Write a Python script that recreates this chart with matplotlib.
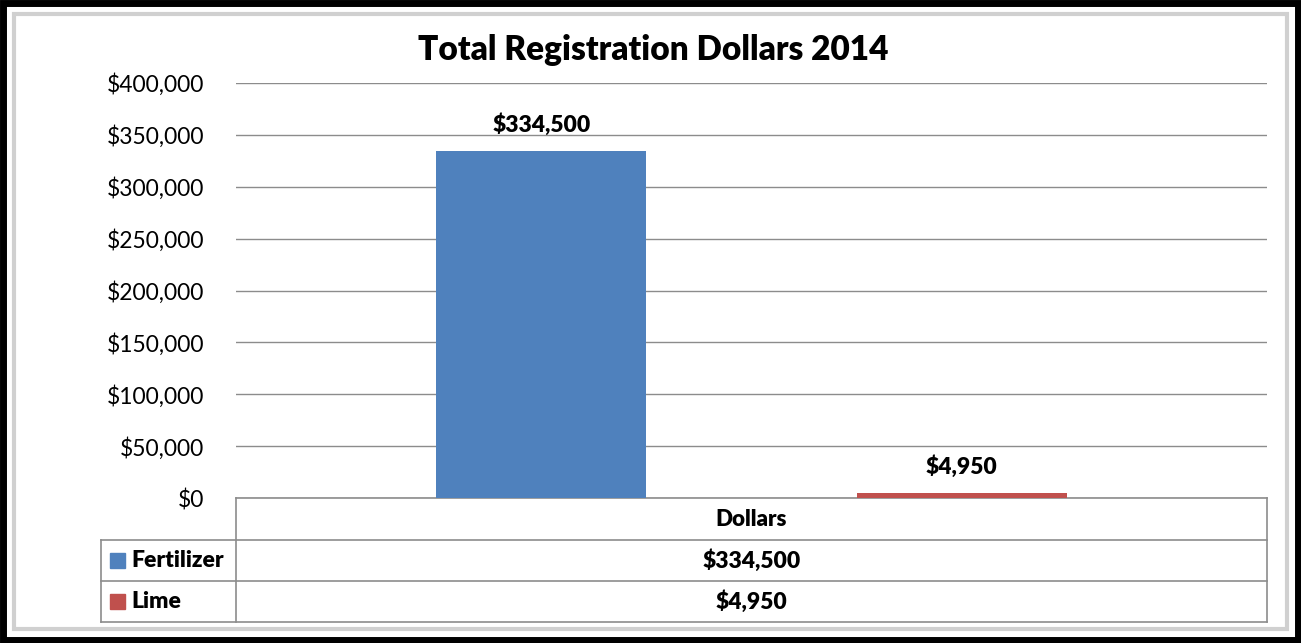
import matplotlib.pyplot as plt
from matplotlib.patches import Rectangle
from matplotlib.ticker import FuncFormatter

# Chart data
series_names = ["Fertilizer", "Lime"]
series_values = [334500, 4950]
series_colors = ["#4F81BD", "#C0504D"]
category = "Dollars"
title = "Total Registration Dollars 2014"

plt.rcParams['font.family'] = ['Lato', 'DejaVu Sans']

fig = plt.figure(figsize=(13.01, 6.43), dpi=100)
fig.patch.set_facecolor("white")

# outer black frame and inner grey frame
fig.patches.append(Rectangle((0.002, 0.004), 0.996, 0.992, transform=fig.transFigure,
                             fill=False, edgecolor="black", linewidth=5))
fig.patches.append(Rectangle((0.011, 0.022), 0.978, 0.956, transform=fig.transFigure,
                             fill=False, edgecolor="#d0d0d0", linewidth=3))

ax = fig.add_axes([0.1814, 0.2255, 0.7925, 0.6454])

# bars: two series in one category
bar_w = 0.204
offsets = [-bar_w, bar_w]
for name, val, col, off in zip(series_names, series_values, series_colors, offsets):
    ax.bar(off, val, width=bar_w, color=col, zorder=3)
    ax.annotate("${:,.0f}".format(val), (off, val), xytext=(0, 11), textcoords="offset points",
                ha="center", va="bottom", fontsize=16.5, fontweight="heavy")

ax.set_xlim(-0.5, 0.5)
ax.set_ylim(0, 400000)
ax.set_yticks(range(0, 400001, 50000))
ax.yaxis.set_major_formatter(FuncFormatter(lambda v, p: "${:,.0f}".format(v)))
ax.tick_params(axis="y", length=0, labelsize=16.5, pad=23)
ax.set_xticks([])
ax.grid(axis="y", color="#8c8c8c", linewidth=1, zorder=0)
for s in ax.spines.values():
    s.set_visible(False)

fig.text(0.502, 1 - 50 / 643.0, title, ha="center", va="center", fontsize=24, fontweight="heavy")

# data table under the plot (axes coords)
px = 1 / 415.0
row_edges = [0, -42 * px, -83 * px, -124 * px]
left = -135 / 1031.0
lc = "#8c8c8c"
kw = dict(transform=ax.transAxes, color=lc, linewidth=1.2, clip_on=False)
ax.plot([0, 1], [0, 0], **kw)
ax.plot([left, 1], [row_edges[1]] * 2, **kw)
ax.plot([left, 1], [row_edges[2]] * 2, **kw)
ax.plot([left, 1], [row_edges[3]] * 2, **kw)
ax.plot([0, 0], [0, row_edges[3]], **kw)
ax.plot([1, 1], [0, row_edges[3]], **kw)
ax.plot([left, left], [row_edges[1], row_edges[3]], **kw)

ax.text(0.5, (row_edges[0] + row_edges[1]) / 2, category, transform=ax.transAxes,
        ha="center", va="center", fontsize=16, fontweight="heavy")
for i, (name, val, col) in enumerate(zip(series_names, series_values, series_colors)):
    yc = (row_edges[i + 1] + row_edges[i + 2]) / 2
    ax.add_patch(Rectangle((left + 9 / 1031.0, yc - 7 * px), 15 / 1031.0, 15 * px,
                           transform=ax.transAxes, color=col, clip_on=False))
    ax.text(left + 30 / 1031.0, yc, name, transform=ax.transAxes, ha="left", va="center",
            fontsize=16.5, fontweight="heavy")
    ax.text(0.5, yc, "${:,.0f}".format(val), transform=ax.transAxes, ha="center",
            va="center", fontsize=16.5, fontweight="heavy")

fig.savefig("out.png", dpi=100)
